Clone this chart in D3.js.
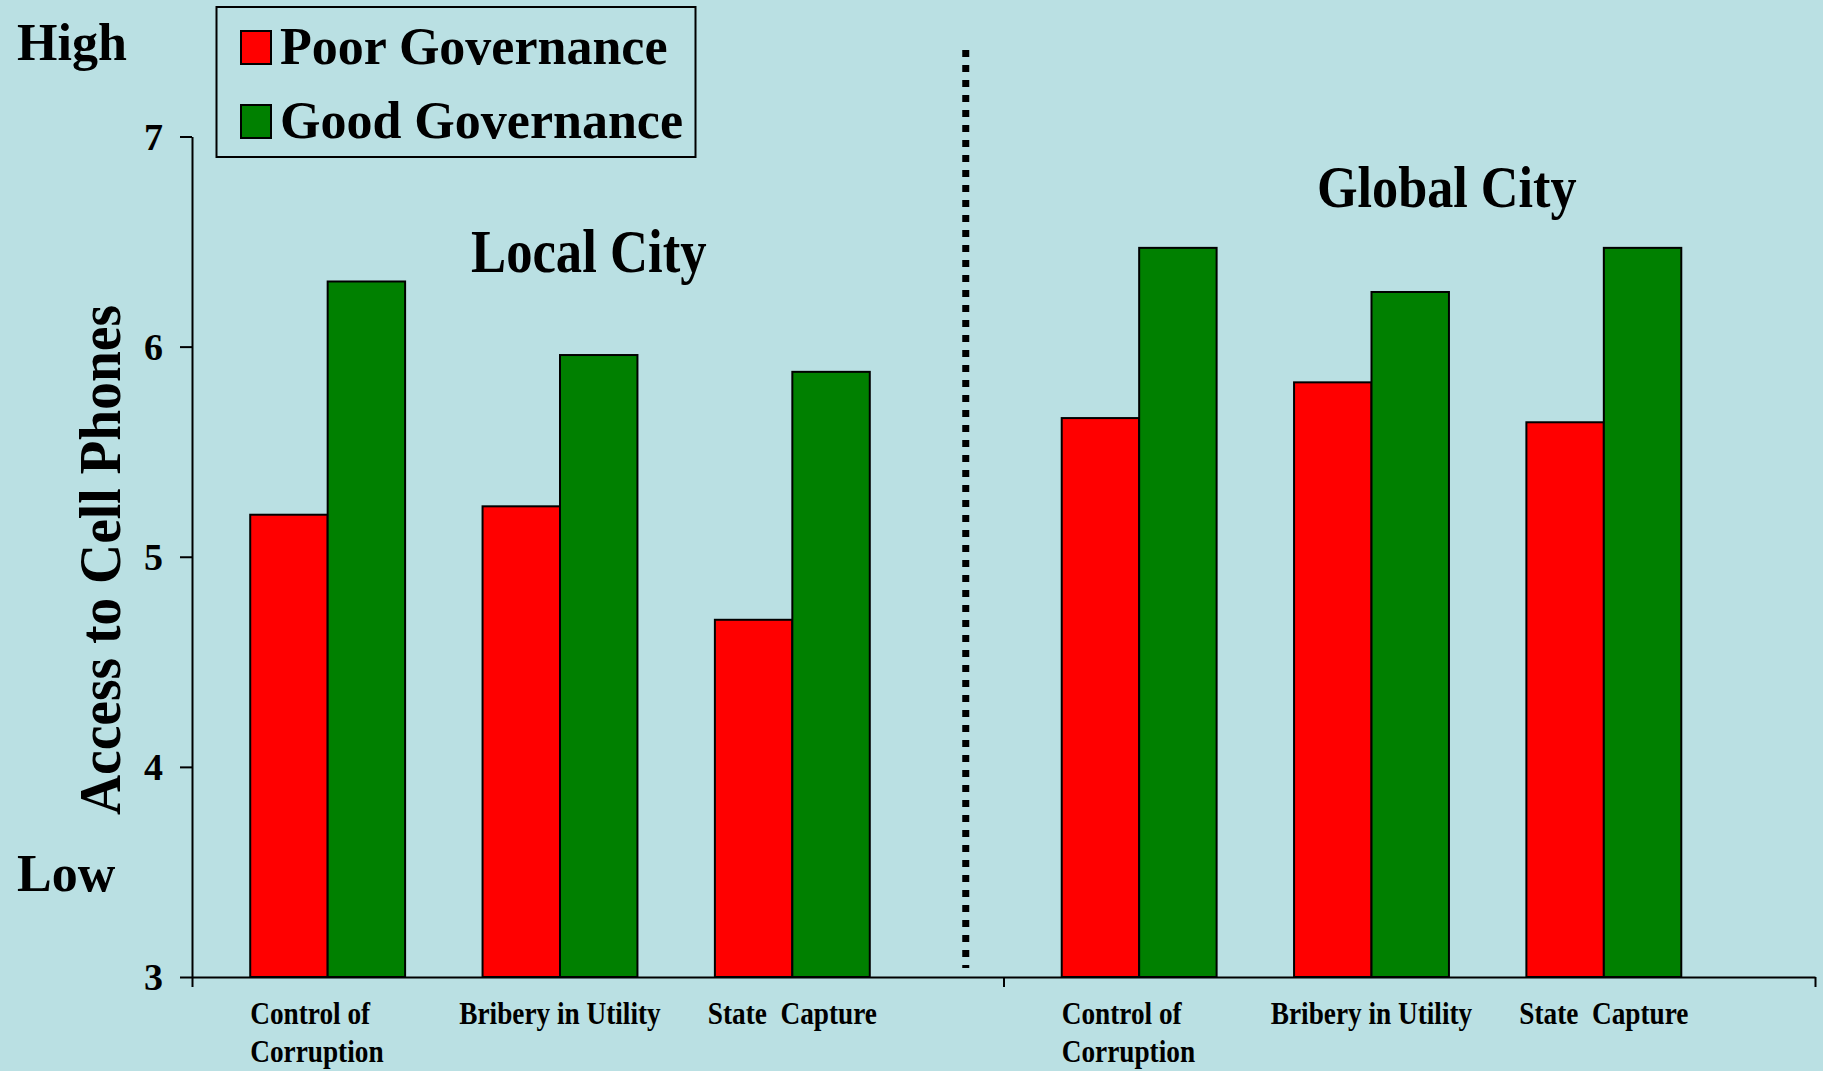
<!DOCTYPE html>
<html>
<head>
<meta charset="utf-8">
<script src="https://cdn.jsdelivr.net/npm/d3@7"></script>
<style>
  html, body { margin: 0; padding: 0; background: #bae0e3; }
  svg { display: block; }
  text { font-family: "Liberation Serif", "Times New Roman", serif; font-weight: bold; fill: #000; }
</style>
</head>
<body>
<script>
// chart values
const categories = ['Control of|Corruption', 'Bribery in Utility', 'State  Capture'];
const panels = ['Local City', 'Global City'];
const series = ['Poor Governance', 'Good Governance'];
const colors = ['#ff0000', '#008000'];
const localPoor = [5.20, 5.24, 4.70];
const localGood = [6.31, 5.96, 5.88];
const globalPoor = [5.66, 5.83, 5.64];
const globalGood = [6.47, 6.26, 6.47];
const yTicks = [3, 4, 5, 6, 7];

const width = 1823, height = 1071;
const plotLeft = 192, plotRight = 1815, plotTop = 136.5, plotBottom = 977;

const svg = d3.select('body').append('svg')
  .attr('width', width)
  .attr('height', height)
  .style('background', '#bae0e3');

const y = d3.scaleLinear().domain([3, 7]).range([plotBottom, plotTop]);

// two panels along the x axis
const xPanel = d3.scaleLinear().domain([0, 2]).range([plotLeft, plotRight]);

const panelData = [
  { name: panels[0], poor: localPoor, good: localGood },
  { name: panels[1], poor: globalPoor, good: globalGood }
];

panelData.forEach(function (p, i) {
  const x0 = xPanel(i) + 19.5;
  p.x = d3.scaleBand()
    .domain(categories)
    .range([x0, x0 + 697])
    .paddingInner(1 / 3)
    .paddingOuter(1 / 6);
  p.xs = d3.scaleBand().domain(series).range([0, p.x.bandwidth()]);
});

// dotted divider
const lx = panelData[0].x, rx = panelData[1].x;
const divX = (lx(categories[2]) + lx.bandwidth() + rx(categories[0])) / 2;
svg.append('line')
  .attr('x1', divX).attr('x2', divX)
  .attr('y1', 50).attr('y2', 968)
  .attr('stroke', '#000')
  .attr('stroke-width', 7)
  .attr('stroke-dasharray', '7,8');

// bars
panelData.forEach(function (p) {
  const g = svg.append('g');
  const rows = [];
  categories.forEach(function (c, j) {
    rows.push({ cat: c, s: series[0], v: p.poor[j], col: colors[0] });
    rows.push({ cat: c, s: series[1], v: p.good[j], col: colors[1] });
  });
  g.selectAll('rect')
    .data(rows)
    .enter()
    .append('rect')
    .attr('x', function (d) { return p.x(d.cat) + p.xs(d.s); })
    .attr('y', function (d) { return y(d.v); })
    .attr('width', p.xs.bandwidth())
    .attr('height', function (d) { return y(3) - y(d.v); })
    .attr('fill', function (d) { return d.col; })
    .attr('stroke', '#000')
    .attr('stroke-width', 2);

  // category labels (wrapped ones sit flush with the bar start)
  const lab = svg.append('g');
  categories.forEach(function (c) {
    const lines = c.split('|');
    const wrapped = lines.length > 1;
    const lxp = wrapped ? p.x(c) : p.x(c) + p.x.bandwidth() / 2;
    lines.forEach(function (line, k) {
      lab.append('text')
        .attr('transform', 'translate(' + lxp + ',' + (1024 + k * 38) + ') scale(0.88,1)')
        .attr('text-anchor', wrapped ? 'start' : 'middle')
        .style('font-size', '31px')
        .style('white-space', 'pre')
        .text(line);
    });
  });
});

// y axis
const yAxis = svg.append('g')
  .attr('transform', 'translate(' + plotLeft + ',0)')
  .call(d3.axisLeft(y).tickValues(yTicks).tickSize(12).tickSizeOuter(0).tickPadding(17).tickFormat(d3.format('d')));
yAxis.select('.domain').attr('stroke', '#000').attr('stroke-width', 2);
yAxis.selectAll('.tick line').attr('stroke', '#000').attr('stroke-width', 2);
yAxis.selectAll('.tick text')
  .style('font-size', '38px')
  .style('font-family', '"Liberation Serif", "Times New Roman", serif')
  .style('font-weight', 'bold')
  .attr('dy', '0.34em');

// x axis with panel boundary ticks
const xAxis = svg.append('g')
  .attr('transform', 'translate(0,' + plotBottom + ')')
  .call(d3.axisBottom(xPanel).tickValues([0, 1, 2]).tickSize(10).tickSizeOuter(0).tickFormat(''));
xAxis.select('.domain').attr('stroke', '#000').attr('stroke-width', 2);
xAxis.selectAll('.tick line').attr('stroke', '#000').attr('stroke-width', 2);

// axis title
svg.append('text')
  .attr('transform', 'translate(120,560) rotate(-90) scale(0.925,1)')
  .attr('text-anchor', 'middle')
  .style('font-size', '60px')
  .text('Access to Cell Phones');

svg.append('text').attr('x', 17).attr('y', 60).style('font-size', '52px').text('High');
svg.append('text').attr('x', 17).attr('y', 891).style('font-size', '52px').text('Low');

// panel titles
svg.append('text')
  .attr('transform', 'translate(471,272) scale(0.85,1)')
  .style('font-size', '62px')
  .text(panels[0]);
svg.append('text')
  .attr('transform', 'translate(1317,207) scale(0.87,1)')
  .style('font-size', '60px')
  .text(panels[1]);

// legend
const legend = svg.append('g');
legend.append('rect')
  .attr('x', 216.5).attr('y', 7)
  .attr('width', 479).attr('height', 150)
  .attr('fill', 'none')
  .attr('stroke', '#000')
  .attr('stroke-width', 2);
series.forEach(function (s, i) {
  legend.append('rect')
    .attr('x', 241).attr('y', 31 + i * 74)
    .attr('width', 30).attr('height', 33)
    .attr('fill', colors[i])
    .attr('stroke', '#000')
    .attr('stroke-width', 2);
  legend.append('text')
    .attr('x', 280).attr('y', 64 + i * 74)
    .style('font-size', '52px')
    .text(s);
});
</script>
</body>
</html>
